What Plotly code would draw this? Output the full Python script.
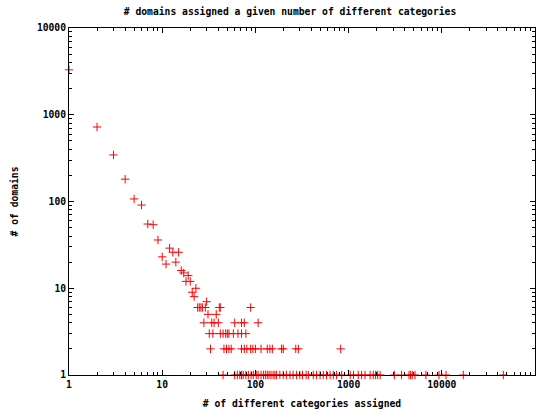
import plotly.graph_objects as go

# number of different categories assigned (x) and number of domains (y)
n_categories = [
    1, 2, 3, 4, 5, 6, 7, 8, 9,
    12, 13, 15, 10, 14, 11, 16, 17, 19, 18, 20, 23, 21, 22, 30,
    24, 25, 26, 27, 29, 41, 42, 89,
    31, 38,
    28, 34, 36, 40, 60, 71, 76, 107,
    32, 35, 42, 45, 48, 50, 52, 58, 65, 71, 79,
    33, 46, 49, 52, 55, 71, 76, 81, 89, 94, 100, 115, 134, 143, 152, 191, 199, 271, 289, 823,
    45, 60, 64, 68, 71, 74, 79, 84, 90, 95, 102, 107, 115, 122, 128, 134, 140, 147,
    155, 162, 169, 183, 199, 215, 235, 254, 277, 300, 320, 350, 370, 418, 453, 494,
    535, 580, 633, 685, 744, 843, 1040, 1130, 1270, 1380, 1500, 1700, 1840, 1950,
    2050, 2180, 3100, 3700, 4450, 4630, 4820, 5160, 6760, 9330, 11100, 17000, 45700,
]
n_domains = [
    3300, 722, 344, 181, 107, 91, 55, 54, 36,
    29, 26, 26, 23, 20, 19, 16, 15, 14, 12, 12, 10, 9, 8, 7,
    6, 6, 6, 6, 6, 6, 6, 6,
    5, 5,
    4, 4, 4, 4, 4, 4, 4, 4,
    3, 3, 3, 3, 3, 3, 3, 3, 3, 3, 3,
    2, 2, 2, 2, 2, 2, 2, 2, 2, 2, 2, 2, 2, 2, 2, 2, 2, 2, 2, 2,
    1, 1, 1, 1, 1, 1, 1, 1, 1, 1, 1, 1, 1, 1, 1, 1, 1, 1,
    1, 1, 1, 1, 1, 1, 1, 1, 1, 1, 1, 1, 1, 1, 1, 1, 1, 1,
    1, 1, 1, 1, 1, 1, 1, 1, 1, 1, 1, 1, 1, 1,
    1, 1, 1, 1, 1, 1, 1, 1, 1, 1, 1, 1, 1,
]

x_tick_vals = [1, 10, 100, 1000, 10000, 100000]
x_tick_text = ["1", "10", "100", "1000", "10000", "100000"]
y_tick_vals = [1, 10, 100, 1000, 10000]
y_tick_text = ["1", "10", "100", "1000", "10000"]
minor_digits = [2, 3, 4, 5, 6, 7, 8, 9]

title_text = "# domains assigned a given number of different categories"
x_title = "# of different categories assigned"
y_title = "# of domains"

FONT = dict(family="DejaVu Sans Mono", size=9.7, color="black")


def minor_vals(decades):
    return [d * 10 ** e for e in range(decades) for d in minor_digits]


fig = go.Figure()
fig.add_trace(go.Scatter(
    x=n_categories, y=n_domains, mode="markers",
    marker=dict(symbol="cross-thin-open", size=6, color="#ff0000",
                line=dict(color="#ff0000", width=1)),
    cliponaxis=False, showlegend=False,
))

axis_common = dict(
    type="log", showline=True, linecolor="black", linewidth=1, mirror="allticks",
    ticks="inside", ticklen=5, tickcolor="black", tickwidth=1,
    showgrid=False, zeroline=False, automargin=False,
    tickfont=FONT,
)

fig.update_layout(
    width=545, height=410,
    margin=dict(l=69, r=10, t=28, b=35),
    paper_bgcolor="white", plot_bgcolor="white",
    font=FONT,
    title=dict(text="<b>" + title_text + "</b>", x=290 / 545, xanchor="center",
               y=1 - 12 / 410, yanchor="middle", font=FONT),
    xaxis=dict(axis_common, range=[0, 5], tickmode="array", tickvals=x_tick_vals,
               ticktext=["<b>" + t + "</b>" for t in x_tick_text],
               minor=dict(ticks="inside", ticklen=3, tickcolor="black", showgrid=False,
                          tickmode="array", tickvals=minor_vals(5)),
               title=dict(text="<b>" + x_title + "</b>", font=FONT, standoff=11)),
    yaxis=dict(axis_common, range=[0, 4], tickmode="array", tickvals=y_tick_vals,
               ticktext=["<b>" + t + "</b>" for t in y_tick_text],
               minor=dict(ticks="inside", ticklen=3, tickcolor="black", showgrid=False,
                          tickmode="array", tickvals=minor_vals(4)),
               title=dict(text="<b>" + y_title + "</b>", font=FONT, standoff=16)),
)

fig.write_html("out.html", config={"displayModeBar": False},
               post_script="document.body.style.margin='0';document.body.style.overflow='hidden';")
